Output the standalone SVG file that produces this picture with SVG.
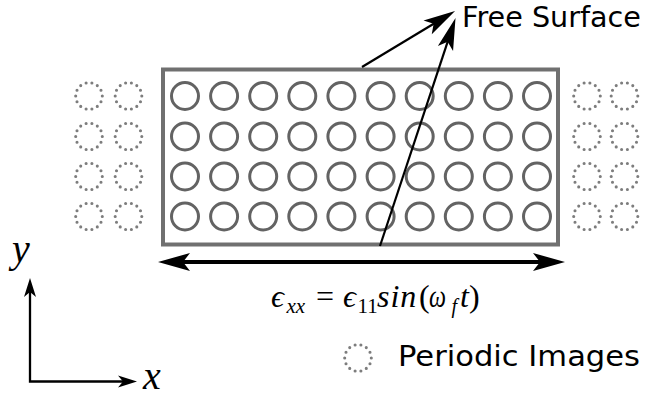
<svg xmlns="http://www.w3.org/2000/svg" width="655" height="398" viewBox="0 0 655 398">
<style>
.atom{fill:none;stroke:#636363;stroke-width:3}
.img{fill:none;stroke:#7d7d7d;stroke-width:3.1;stroke-linecap:round;stroke-dasharray:0 1}
.sans{font-family:"DejaVu Sans","Liberation Sans",sans-serif;fill:#000}
.math{font-family:"Liberation Serif","DejaVu Serif",serif;fill:#000}
.arr{fill:none;stroke:#000}
</style>
<defs>
<marker id="headL" markerUnits="userSpaceOnUse" orient="auto-start-reverse" markerWidth="40" markerHeight="24" viewBox="-10 -12 40 24" refX="0" refY="0" overflow="visible">
<path d="M-8,-9 L24,0 L-8,9 L-1,0 Z" fill="#000"/>
</marker>
<marker id="headM" markerUnits="userSpaceOnUse" orient="auto" markerWidth="40" markerHeight="24" viewBox="-12 -12 40 24" refX="0" refY="0" overflow="visible">
<path d="M-10,-8 L22,0 L-10,8 L-3,0 Z" fill="#000"/>
</marker>
<marker id="headS" markerUnits="userSpaceOnUse" orient="auto-start-reverse" markerWidth="24" markerHeight="16" viewBox="-8 -8 24 16" refX="0" refY="0" overflow="visible">
<path d="M-6,-6 L13,0 L-6,6 L-1,0 Z" fill="#000"/>
</marker>
<g id="row">
<circle class="atom" cx="185" cy="0" r="13.5"/>
<circle class="atom" cx="224.1" cy="0" r="13.5"/>
<circle class="atom" cx="263.2" cy="0" r="13.5"/>
<circle class="atom" cx="302.3" cy="0" r="13.5"/>
<circle class="atom" cx="341.4" cy="0" r="13.5"/>
<circle class="atom" cx="380.6" cy="0" r="13.5"/>
<circle class="atom" cx="419.7" cy="0" r="13.5"/>
<circle class="atom" cx="458.8" cy="0" r="13.5"/>
<circle class="atom" cx="497.9" cy="0" r="13.5"/>
<circle class="atom" cx="537" cy="0" r="13.5"/>
<circle class="img" cx="89" cy="0" r="13.3" pathLength="14"/>
<circle class="img" cx="128.5" cy="0" r="13.3" pathLength="14"/>
<circle class="img" cx="587" cy="0" r="13.3" pathLength="14"/>
<circle class="img" cx="624.5" cy="0" r="13.3" pathLength="14"/>
</g>
</defs>

<g id="cell">
<rect x="163" y="69.5" width="395" height="175" fill="none" stroke="#707070" stroke-width="4"/>
<use href="#row" y="96"/>
<use href="#row" y="136.5"/>
<use href="#row" y="176.5"/>
<use href="#row" y="216.5"/>
</g>

<g id="connectors">
<line class="arr" x1="362" y1="67" x2="436.2" y2="22.3" stroke-width="2.2" marker-end="url(#headM)"/>
<line class="arr" x1="380" y1="246" x2="448.6" y2="38.9" stroke-width="2.2" marker-end="url(#headM)"/>
<line class="arr" x1="182" y1="262" x2="541" y2="262" stroke-width="4" marker-start="url(#headL)" marker-end="url(#headL)"/>
<polyline class="arr" points="30,291 30,381.5 124,381.5" stroke-width="2.3" marker-start="url(#headS)" marker-end="url(#headS)"/>
</g>

<g id="free-surface">
<text class="sans" x="462" y="27" font-size="28" textLength="179" lengthAdjust="spacingAndGlyphs">Free Surface</text>
</g>

<g id="formula">
<text class="math" y="307" font-size="32"><tspan x="271" font-style="italic">ϵ</tspan><tspan x="286.5" y="313" font-size="21" font-style="italic">xx</tspan><tspan x="316" y="307">=</tspan><tspan x="343" font-style="italic">ϵ</tspan><tspan x="357.5" y="313" font-size="21">11</tspan><tspan x="377" y="307" font-style="italic" letter-spacing="1">sin</tspan><tspan x="419">(</tspan><tspan x="429" font-style="italic" textLength="17" lengthAdjust="spacingAndGlyphs">ω</tspan><tspan x="451.5" y="313" font-size="20" font-style="italic">f</tspan><tspan x="460" y="307" font-style="italic">t</tspan><tspan x="469">)</tspan></text>
</g>

<g id="axes">
<text class="math" x="12" y="262" font-size="40" font-style="italic">y</text>
<text class="math" x="143" y="389" font-size="40" font-style="italic">x</text>
</g>

<g id="legend">
<circle class="img" cx="358" cy="358" r="13.3" pathLength="14"/>
<text class="sans" x="398" y="366" font-size="28.5" textLength="242" lengthAdjust="spacingAndGlyphs">Periodic Images</text>
</g>
</svg>
